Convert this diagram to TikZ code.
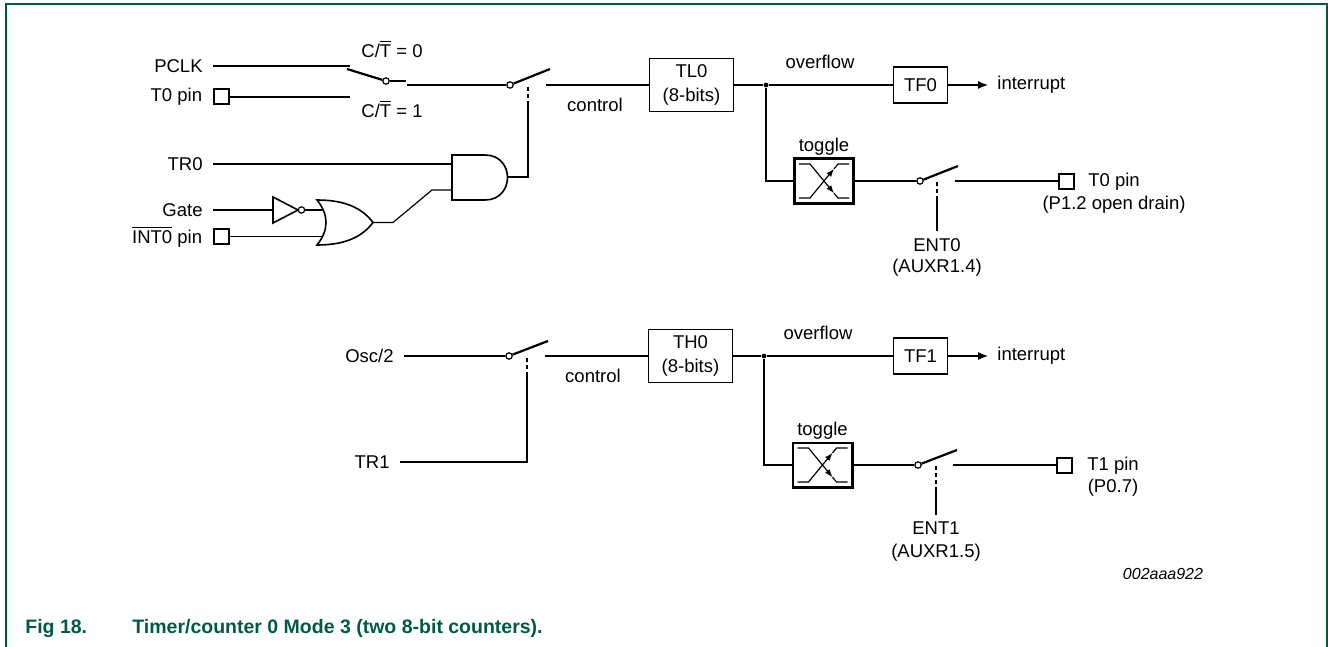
\documentclass[tikz,border=0pt]{standalone}
\usepackage{fontspec}
\setmainfont{Liberation Sans}
\usepackage{tikz}
\usetikzlibrary{positioning, calc, arrows.meta}
\definecolor{figgreen}{RGB}{0,90,70}

\begin{document}
\begin{tikzpicture}[x=0.5pt, y=-0.5pt, font=\fontsize{9.25}{12}\selectfont,
	wire/.style={line width=0.6pt},
	gate/.style={line width=0.8pt},
	lever/.style={line width=1.1pt},
	ctrl/.style={line width=0.6pt, dash pattern=on 2pt off 1.5pt},
	box/.style={draw, line width=0.6pt, align=center, inner sep=0pt},
	tglbox/.style={draw, line width=1.3pt, minimum width=29.7pt, minimum height=22.2pt, inner sep=0pt},
	pinsq/.style={draw, line width=1pt, minimum size=7.5pt, inner sep=0pt},
	pivot/.style={draw, circle, fill=white, line width=0.6pt, minimum size=3.2pt, inner sep=0pt},
	dot/.style={circle, fill, inner sep=0pt, minimum size=2.4pt},
	lbl/.style={anchor=east, inner xsep=5pt, inner ysep=0pt},
	tip/.style={-{Latex[length=5pt,width=4pt]}}]
	\useasboundingbox (0,0) rectangle (1328,647);
	\draw[figgreen, line width=1pt] (6,647) -- (6,4.5) -- (1326.5,4.5) -- (1326.5,647);

	% timer 0 input select
	\node[lbl] (pclk) at (213,66) {PCLK};
	\node[pinsq] (t0in) at (221,97) {};
	\node[left=5pt of t0in, inner sep=0pt] {T0 pin};
	\coordinate (pclk-c) at (350,66);
	\coordinate (t0in-c) at (350,97);
	\draw[wire] (pclk) -- (pclk-c);
	\draw[wire] (t0in) -- (t0in-c);
	\node at (392,49) {C/$\overline{\mbox{T}}$ = 0};
	\node at (392,109) {C/$\overline{\mbox{T}}$ = 1};
	\node[pivot] (sw0) at (386,81) {};
	\coordinate (sw0-tip) at (347,69);
	\coordinate (sw0-stub) at (406,81);
	\draw[lever] (sw0) -- (sw0-tip);
	\draw[wire] (sw0) -- (sw0-stub);

	% timer 0 run switch
	\coordinate (run0-in) at (407,85);
	\node[pivot] (run0) at (510,85) {};
	\coordinate (run0-tip) at (550,69);
	\coordinate (run0-out) at (546,85);
	\coordinate (run0-a) at (528,87);
	\coordinate (run0-b) at (528,104);
	\draw[wire] (run0-in) -- (run0);
	\draw[lever] (run0) -- (run0-tip);
	\draw[ctrl] (run0-a) -- (run0-b);

	% gate logic
	\node[lbl] (tr0) at (213,164) {TR0};
	\draw[gate] (452,155) -- (485,155) .. controls (515,155) and (515,200) .. (485,200) -- (452,200) -- cycle;
	\coordinate (and-in1) at (452,164);
	\coordinate (and-in2) at (452,190);
	\coordinate (and-out) at (507.5,177);
	\draw[wire] (tr0) -- (and-in1);
	\draw[wire] (run0-b) |- (and-out);
	\draw[gate] (317,200) .. controls (345,200) and (362,208) .. (373,222.5)
		.. controls (362,237) and (345,245) .. (317,245)
		.. controls (329,230) and (329,215) .. (317,200) -- cycle;
	\coordinate (or-out) at (373,222.5);
	\coordinate (or-mid) at (393,222.5);
	\coordinate (and-mid) at (432,190);
	\draw[wire] (or-out) -- (or-mid) -- (and-mid) -- (and-in2);
	\node[lbl] (gate) at (213,210) {Gate};
	\draw[gate] (273,197) -- (298,210) -- (273,223) -- cycle;
	\node[pivot] (inv) at (301.5,210) {};
	\coordinate (not-in) at (273,210);
	\coordinate (or-in1) at (322.5,210);
	\draw[wire] (gate) -- (not-in);
	\draw[wire] (inv) -- (or-in1);
	\node[pinsq] (intin) at (221,236.5) {};
	\node[left=5pt of intin, inner sep=0pt] {$\overline{\mbox{INT0}}$ pin};
	\coordinate (or-in2) at (322.5,236.5);
	\draw[wire] (intin) -- (or-in2);

	% timer 0 counter
	\node[box, minimum width=42pt, minimum height=26.5pt] (tl0) at (691.5,85) {TL0\\(8-bits)};
	\draw[wire] (run0-out) -- (tl0);
	\node at (595,105) {control};
	\node[dot] (j0) at (766,85) {};
	\node[box, minimum width=27pt, minimum height=18pt] (tf0) at (920.5,85) {TF0};
	\node at (820,62) {overflow};
	\node[anchor=west, inner xsep=4.5pt, inner ysep=0pt] (int0) at (988,85) {interrupt};
	\draw[wire] (tl0) -- (j0) -- (tf0);
	\draw[wire, tip] (tf0) -- (int0);
	\node[tglbox] (tg0) at (824,181) {};
	\node[above=1pt of tg0, inner sep=0pt] {toggle};
	\coordinate (j0-down) at (766,181);
	\draw[wire] (j0) -- (j0-down) -- (tg0);
	\node[pivot] (en0) at (920,181) {};
	\coordinate (en0-tip) at (958,166);
	\coordinate (en0-out) at (955,181);
	\coordinate (en0-a) at (937,182);
	\coordinate (en0-b) at (937,200);
	\draw[wire] (tg0) -- (en0);
	\draw[lever] (en0) -- (en0-tip);
	\draw[ctrl] (en0-a) -- (en0-b);
	\node (ent0) at (937,245) {ENT0};
	\node at (937,268) {(AUXR1.4)};
	\draw[wire] (en0-b) -- (ent0);
	\node[pinsq] (t0out) at (1066.5,181) {};
	\draw[wire] (en0-out) -- (t0out);
	\node at (1114,182) {T0 pin};
	\node at (1114,205) {(P1.2 open drain)};

	% timer 1 run switch
	\node[lbl] (osc) at (404,356) {Osc/2};
	\node[pivot] (run1) at (509,356) {};
	\coordinate (run1-tip) at (548,341);
	\coordinate (run1-out) at (545,356);
	\coordinate (run1-a) at (527,358);
	\coordinate (run1-b) at (527,375);
	\draw[wire] (osc) -- (run1);
	\draw[lever] (run1) -- (run1-tip);
	\draw[ctrl] (run1-a) -- (run1-b);
	\node[lbl] (tr1) at (400,462) {TR1};
	\draw[wire] (run1-b) |- (tr1);

	% TH0 counter
	\node[box, minimum width=42pt, minimum height=26.5pt] (th0) at (690.5,356) {TH0\\(8-bits)};
	\draw[wire] (run1-out) -- (th0);
	\node at (593,376) {control};
	\node[dot] (j1) at (764,356) {};
	\node[box, minimum width=27pt, minimum height=18pt] (tf1) at (920.5,356) {TF1};
	\node at (818,333) {overflow};
	\node[anchor=west, inner xsep=4.5pt, inner ysep=0pt] (int1) at (988,356) {interrupt};
	\draw[wire] (th0) -- (j1) -- (tf1);
	\draw[wire, tip] (tf1) -- (int1);
	\node[tglbox] (tg1) at (822.5,465) {};
	\node[above=1pt of tg1, inner sep=0pt] {toggle};
	\coordinate (j1-down) at (764,465);
	\draw[wire] (j1) -- (j1-down) -- (tg1);
	\node[pivot] (en1) at (918,465) {};
	\coordinate (en1-tip) at (957,450);
	\coordinate (en1-out) at (953,465);
	\coordinate (en1-a) at (936,466);
	\coordinate (en1-b) at (936,487);
	\draw[wire] (tg1) -- (en1);
	\draw[lever] (en1) -- (en1-tip);
	\draw[ctrl] (en1-a) -- (en1-b);
	\node (ent1) at (936,528) {ENT1};
	\node at (936,553) {(AUXR1.5)};
	\draw[wire] (en1-b) -- (ent1);
	\node[pinsq] (t1out) at (1064.5,465) {};
	\draw[wire] (en1-out) -- (t1out);
	\node at (1113,466) {T1 pin};
	\node at (1113,488) {(P0.7)};

	% toggle symbols
	\foreach \t in {tg0,tg1} {
		\draw[wire, -{Latex[length=4pt,width=3pt]}] ($(\t)+(-25,-17)$) -- ($(\t)+(-14,-17)$) -- ($(\t)+(10,12.2)$);
		\draw[wire] ($(\t)+(10,12.2)$) -- ($(\t)+(14,17)$) -- ($(\t)+(25,17)$);
		\draw[wire, -{Latex[length=4pt,width=3pt]}] ($(\t)+(-25,17)$) -- ($(\t)+(-14,17)$) -- ($(\t)+(10,-12.2)$);
		\draw[wire] ($(\t)+(10,-12.2)$) -- ($(\t)+(14,-17)$) -- ($(\t)+(25,-17)$);
	}

	\node[font=\itshape\fontsize{8}{10}\selectfont] at (1163,574) {002aaa922};
	\node[anchor=base west, inner sep=0pt, text=figgreen, font=\bfseries\fontsize{9.75}{12}\selectfont] (fig) at (25,633) {Fig 18.};
	\node[anchor=base west, inner sep=0pt, text=figgreen, font=\bfseries\fontsize{9.75}{12}\selectfont] (cap) at (132,633) {Timer/counter 0 Mode 3 (two 8-bit counters).};
\end{tikzpicture}
\end{document}
